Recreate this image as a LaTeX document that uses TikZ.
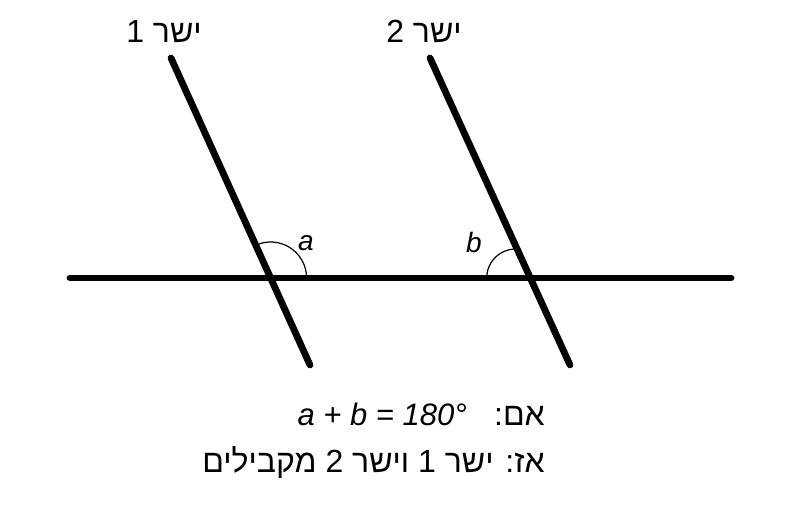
\documentclass[tikz,border=0pt]{standalone}
\usepackage{fontspec}
\setmainfont{Liberation Sans}
\newfontfamily\hebfont[Script=Hebrew]{Liberation Sans}
\TeXXeTstate=1
\usetikzlibrary{calc}
\tikzset{
  thickline/.style={line width=6.8pt, line cap=round, black},
  anglearc/.style={line width=1.2pt, black},
  lbl/.style={inner sep=0pt, font=\fontsize{32}{38}\selectfont},
  anglelbl/.style={inner sep=0pt, font=\fontsize{28}{32}\selectfont\itshape}
}
\begin{document}
\begin{tikzpicture}[x=1pt,y=1pt]
\useasboundingbox (0,0) rectangle (800,515);
% end points
\coordinate (hL) at (70,237);
\coordinate (hR) at (731,237);
\coordinate (t1) at (171,457);
\coordinate (b1) at (310,150);
\coordinate (t2) at (430,457);
\coordinate (b2) at (570,150);
\coordinate (I1) at ($(t1)!0.7166!(b1)$);
\coordinate (I2) at ($(t2)!0.7166!(b2)$);
% lines
\draw[thickline] (hL) -- (hR);
\draw[thickline] (t1) -- (b1);
\draw[thickline] (t2) -- (b2);
% angle arcs
\draw[anglearc] ($(I1)+(36,0)$) arc[start angle=0, end angle=112, radius=36];
\coordinate (bs) at (486.7,237);
\draw[anglearc] (bs) arc[start angle=180, end angle=88, radius=29];
% angle labels
\node[anglelbl] (la) at (306,272) {a};
\node[anglelbl] (lb) at (474,273) {b};
% line labels
\node[lbl, anchor=base] (n1) at (164,472) {\hebfont\beginR ישר 1\endR};
\node[lbl, anchor=base] (n2) at (424,472) {\hebfont\beginR ישר 2\endR};
% bottom text
\node[lbl, anchor=base east] (ifh) at (545,90) {\hebfont\beginR אם:\endR};
\node[lbl, anchor=base east, font=\fontsize{31}{36}\selectfont\itshape] (eq) at (467,90) {a + b = 180°};
\node[lbl, anchor=base east] (then) at (545,43) {\hebfont\beginR אז: ישר 1 וישר 2 מקבילים\endR};
\end{tikzpicture}
\end{document}
